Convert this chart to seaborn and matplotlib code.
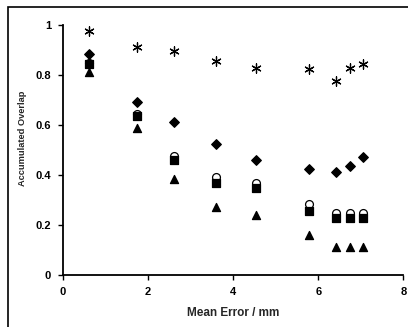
import pandas as pd
import seaborn as sns
import matplotlib.pyplot as plt
from matplotlib.patches import Rectangle

# data
mean_error = [0.6, 1.73, 2.6, 3.6, 4.53, 5.78, 6.43, 6.74, 7.05]
star = [0.977, 0.913, 0.897, 0.856, 0.829, 0.823, 0.776, 0.827, 0.843]
diamond = [0.886, 0.693, 0.613, 0.523, 0.460, 0.424, 0.412, 0.435, 0.471]
circle = [0.850, 0.645, 0.475, 0.391, 0.368, 0.284, 0.249, 0.249, 0.249]
square = [0.846, 0.636, 0.460, 0.367, 0.348, 0.255, 0.228, 0.228, 0.228]
triangle = [0.813, 0.587, 0.384, 0.273, 0.240, 0.161, 0.111, 0.111, 0.111]

sns.set_theme(style="white")
plt.rcParams['font.family'] = ['Liberation Sans', 'DejaVu Sans']

fig = plt.figure(figsize=(4.08, 3.27), dpi=100)
ax = fig.add_axes([0.1544, 0.159, 0.834, 0.7645])

# outer frame around the chart area
fig.patches.append(Rectangle((8 / 408, -0.1), 1.2, 1 - 7 / 327 + 0.1,
                             transform=fig.transFigure, fill=False,
                             edgecolor="black", linewidth=1.2))

series = [
    (diamond, "D", "black", 24),
    (circle, "o", "white", 32),
    (square, "s", "black", 32),
    (triangle, "^", "black", 34),
]
for ys, mk, fc, sz in series:
    sns.scatterplot(x=mean_error, y=ys, marker=mk, s=sz, color=fc,
                    edgecolor="black", linewidth=0.9, ax=ax, zorder=3)
sns.scatterplot(x=mean_error, y=star, marker=(6, 2, 0), s=45,
                color="black", linewidth=0.9, ax=ax, zorder=3)

ax.set_xlim(0, 8)
ax.set_ylim(0, 1)
ax.set_xticks([0, 2, 4, 6, 8])
ax.set_yticks([0, 0.2, 0.4, 0.6, 0.8, 1])
ax.set_xticklabels(["0", "2", "4", "6", "8"])
ax.set_yticklabels(["0", "0.2", "0.4", "0.6", "0.8", "1"])
ax.tick_params(axis="both", direction="out", length=3.5, width=1,
               labelsize=8, colors="black")
ax.tick_params(axis="x", pad=5)
ax.tick_params(axis="y", pad=5)
for lbl in ax.get_xticklabels() + ax.get_yticklabels():
    lbl.set_fontweight("bold")
ax.xaxis.set_ticks_position("bottom")
ax.yaxis.set_ticks_position("left")

sns.despine(ax=ax)
for side in ["left", "bottom"]:
    ax.spines[side].set_color("black")
    ax.spines[side].set_linewidth(1.3)

ax.set_xlabel("Mean Error / mm", fontsize=8.5, fontweight="bold", labelpad=7)
ax.set_ylabel("Accumulated Overlap", fontsize=6.7, fontweight="bold")
ax.yaxis.set_label_coords(-0.106, 0.548)

fig.savefig("out.png", dpi=100)
